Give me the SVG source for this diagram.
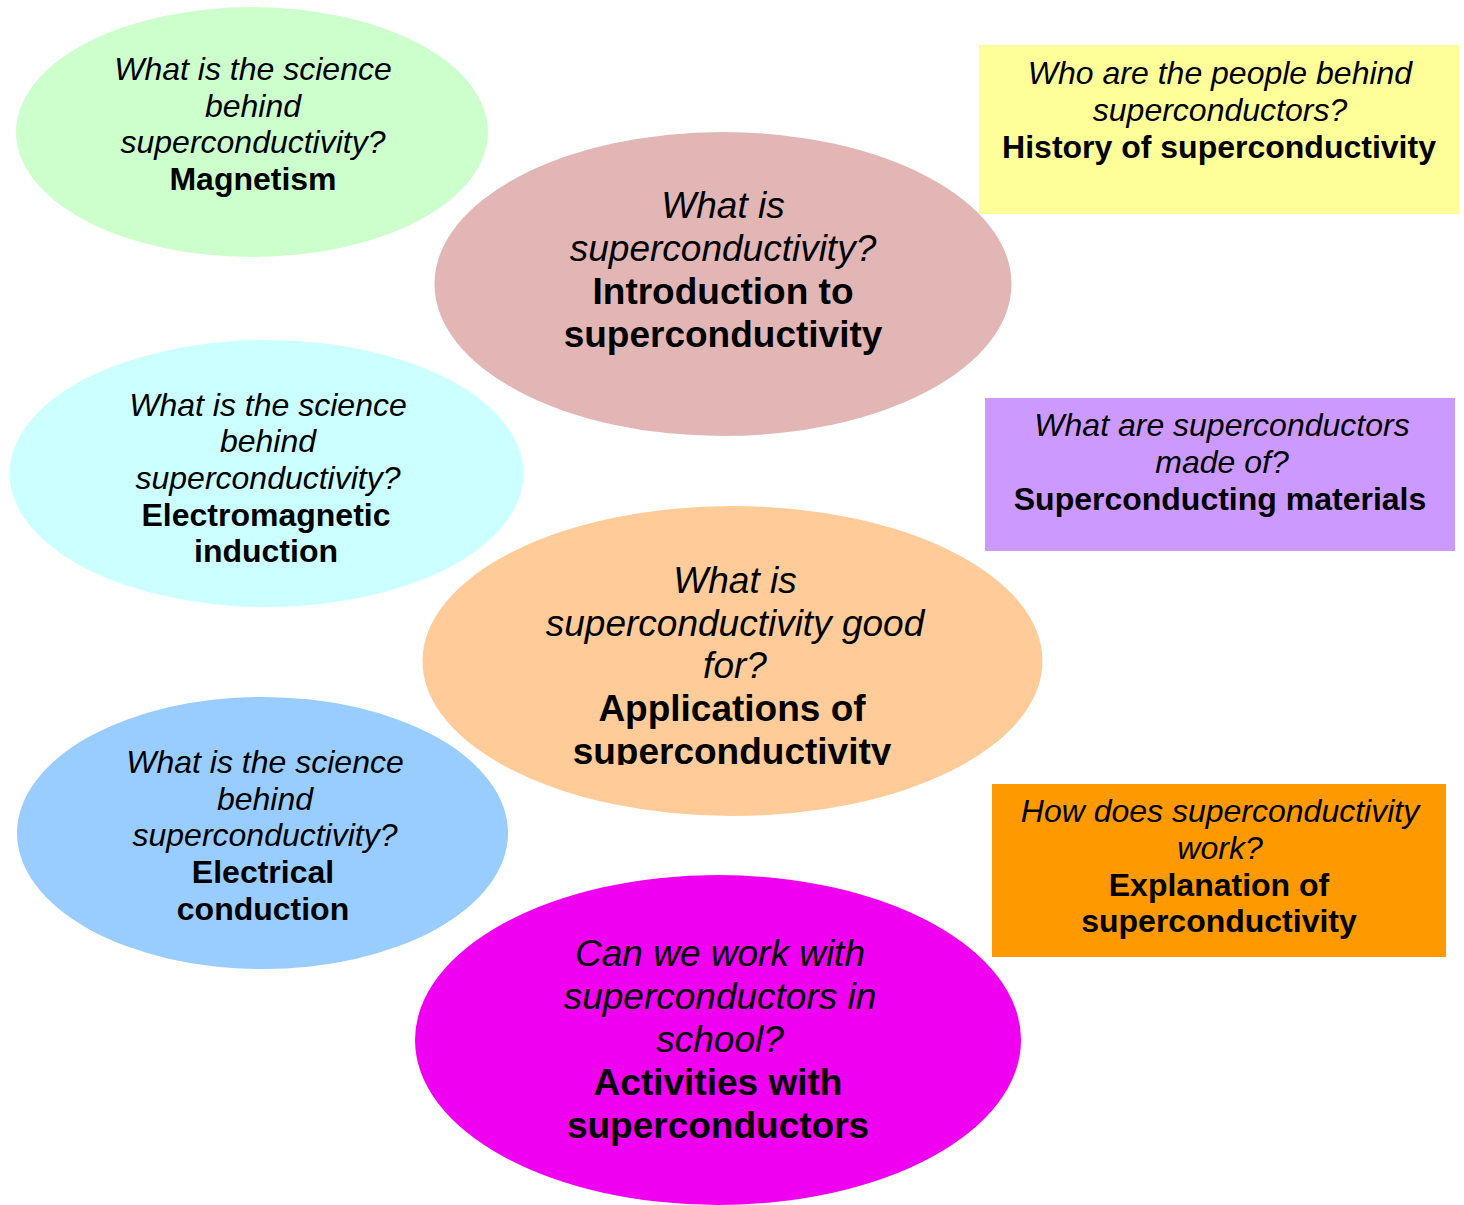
<svg xmlns="http://www.w3.org/2000/svg" width="1464" height="1205" viewBox="0 0 1464 1205">
  <style>
    text { font-family: "Liberation Sans", Arial, sans-serif; fill: #000; text-anchor: middle; }
    .q { font-style: italic; }
    .t { font-weight: bold; }
    .s { font-size: 32px; }
    .l { font-size: 37px; }
  </style>
  <defs>
    <clipPath id="appsClip">
      <rect x="400" y="500" width="660" height="265"/>
    </clipPath>
  </defs>
  <rect width="1464" height="1205" fill="#ffffff"/>

  <!-- topic nodes -->
  <g id="magnetism">
    <ellipse cx="252" cy="132" rx="236" ry="125" fill="#CCFFCC"/>
    <text class="s" x="253" y="80"><tspan class="q">What is the science</tspan></text>
    <text class="s q" x="253" y="117">behind</text>
    <text class="s q" x="253" y="153">superconductivity?</text>
    <text class="s t" x="253" y="190">Magnetism</text>
  </g>

  <g id="introduction">
    <ellipse cx="723" cy="284" rx="288.5" ry="152" fill="#E3B6B6"/>
    <text class="l q" x="723" y="218">What is</text>
    <text class="l q" x="723" y="261">superconductivity?</text>
    <text class="l t" x="723" y="304">Introduction to</text>
    <text class="l t" x="723" y="347">superconductivity</text>
  </g>

  <g id="history">
    <rect x="979" y="45" width="480" height="169" fill="#FFFF99"/>
    <text class="s q" x="1220" y="84">Who are the people behind</text>
    <text class="s q" x="1220" y="121">superconductors?</text>
    <text class="s t" x="1219" y="158">History of superconductivity</text>
  </g>

  <g id="induction">
    <ellipse cx="266.5" cy="473.5" rx="257" ry="133.5" fill="#CCFFFF"/>
    <text class="s q" x="268" y="416">What is the science</text>
    <text class="s q" x="268" y="452">behind</text>
    <text class="s q" x="268" y="489">superconductivity?</text>
    <text class="s t" x="266" y="526">Electromagnetic</text>
    <text class="s t" x="266" y="562">induction</text>
  </g>

  <g id="materials">
    <rect x="985" y="398" width="470" height="153" fill="#CC99FF"/>
    <text class="s q" x="1222" y="436">What are superconductors</text>
    <text class="s q" x="1222" y="473">made of?</text>
    <text class="s t" x="1220" y="510">Superconducting materials</text>
  </g>

  <g id="applications">
    <ellipse cx="732.5" cy="661" rx="310" ry="155" fill="#FFCC99"/>
    <g clip-path="url(#appsClip)">
      <text class="l q" x="735" y="593">What is</text>
      <text class="l q" x="735" y="636">superconductivity good</text>
      <text class="l q" x="735" y="678">for?</text>
      <text class="l t" x="732" y="721">Applications of</text>
      <text class="l t" x="732" y="764">superconductivity</text>
    </g>
  </g>

  <g id="conduction">
    <ellipse cx="262.5" cy="833" rx="245.5" ry="136" fill="#99CCFF"/>
    <text class="s q" x="265" y="773">What is the science</text>
    <text class="s q" x="265" y="810">behind</text>
    <text class="s q" x="265" y="846">superconductivity?</text>
    <text class="s t" x="263" y="883">Electrical</text>
    <text class="s t" x="263" y="920">conduction</text>
  </g>

  <g id="explanation">
    <rect x="992" y="784" width="454" height="173" fill="#FF9900"/>
    <text class="s q" x="1220" y="822">How does superconductivity</text>
    <text class="s q" x="1220" y="859">work?</text>
    <text class="s t" x="1219" y="896">Explanation of</text>
    <text class="s t" x="1219" y="932">superconductivity</text>
  </g>

  <g id="activities">
    <ellipse cx="718" cy="1040" rx="303" ry="165" fill="#F000F0"/>
    <text class="l q" x="720" y="966">Can we work with</text>
    <text class="l q" x="720" y="1009">superconductors in</text>
    <text class="l q" x="720" y="1052">school?</text>
    <text class="l t" x="718" y="1095">Activities with</text>
    <text class="l t" x="718" y="1138">superconductors</text>
  </g>

  <!-- no connectors between topics -->
  <g id="connectors"/>
</svg>
